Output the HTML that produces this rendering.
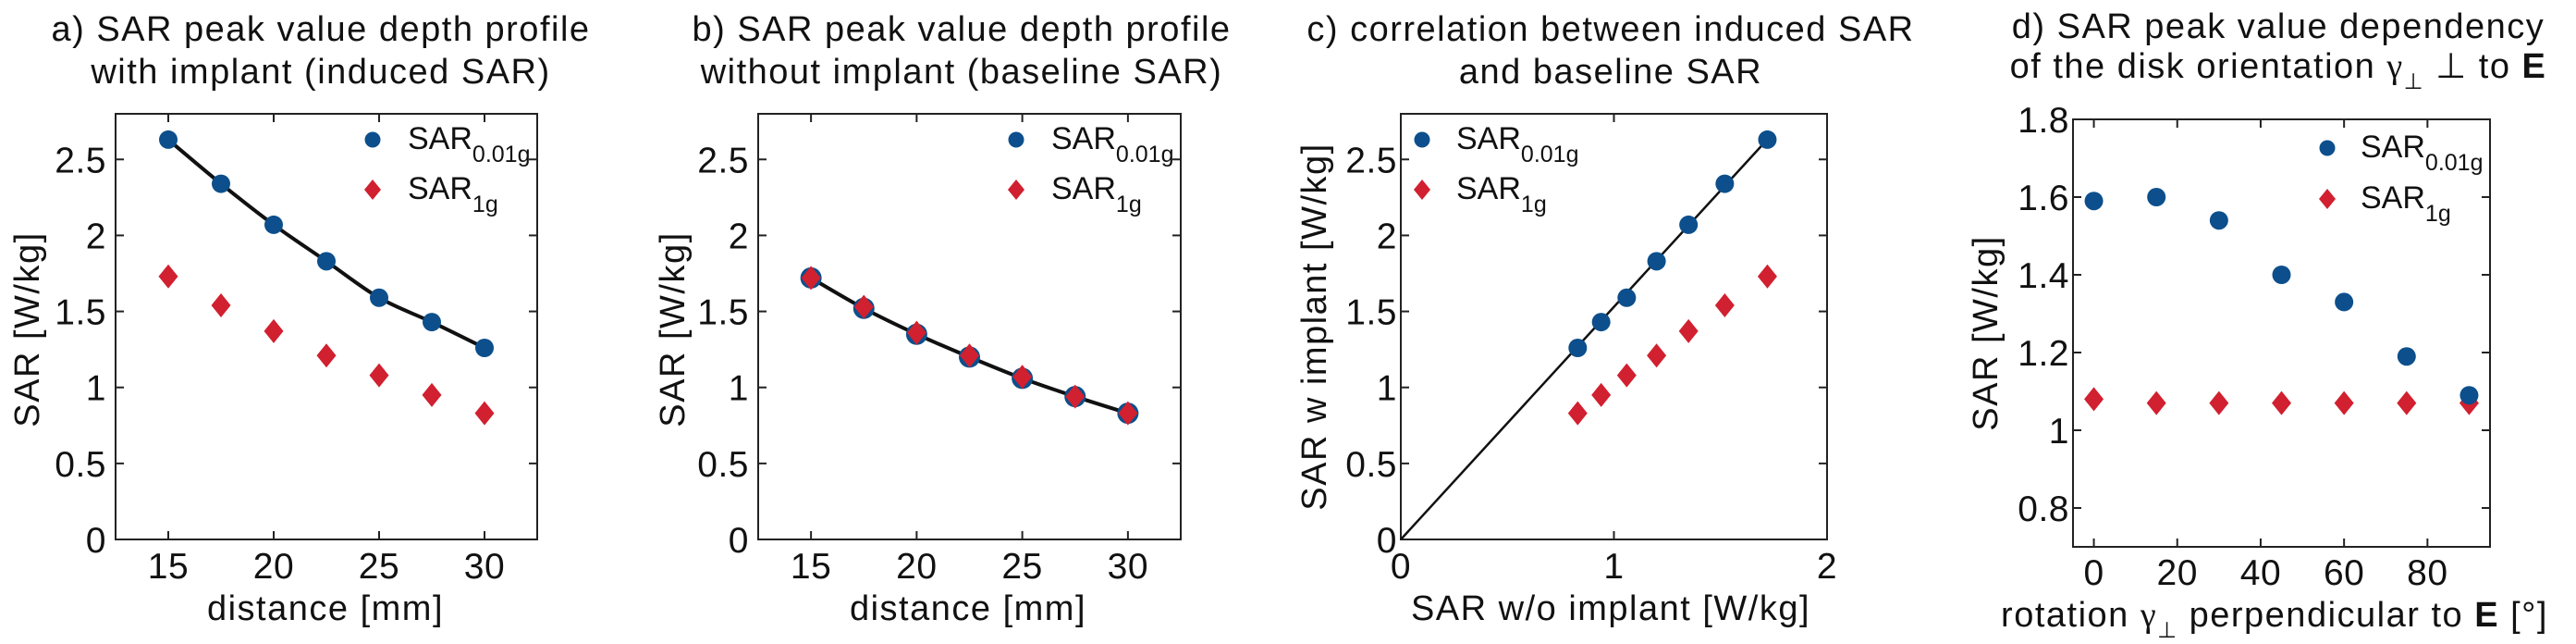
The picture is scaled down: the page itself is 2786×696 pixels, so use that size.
<!DOCTYPE html>
<html><head><meta charset="utf-8"><style>
html,body{margin:0;padding:0;background:#fff;}
svg{display:block;font-family:"Liberation Sans",Arial,sans-serif;}
</style></head><body>
<svg id="fig" width="2786" height="696" viewBox="0 0 2786 696" xmlns="http://www.w3.org/2000/svg"></svg>
<script>
// ---- data ----
const distances = [15, 17.5, 20, 22.5, 25, 27.5, 30];
const inducedSAR001 = [2.63, 2.34, 2.07, 1.83, 1.59, 1.43, 1.26];
const inducedSAR1 = [1.73, 1.54, 1.37, 1.21, 1.08, 0.95, 0.83];
const baselineSAR001 = [1.72, 1.52, 1.35, 1.20, 1.06, 0.94, 0.83];
const baselineSAR1 = [1.72, 1.53, 1.36, 1.21, 1.07, 0.94, 0.83];
const rotations = [0, 15, 30, 45, 60, 75, 90];
const rotSAR001 = [1.59, 1.60, 1.54, 1.40, 1.33, 1.19, 1.09];
const rotSAR1 = [1.08, 1.07, 1.07, 1.07, 1.07, 1.07, 1.07];
const corrSlope = [1.53];
const ticksSAR = [0, 0.5, 1, 1.5, 2, 2.5];
const tickLabelsSAR = ["0", "0.5", "1", "1.5", "2", "2.5"];
const ticksDist = [15, 20, 25, 30];
const ticksCorrX = [0, 1, 2];
const ticksRotX = [0, 20, 40, 60, 80];
const ticksRotY = [0.8, 1, 1.2, 1.4, 1.6, 1.8];
const tickLabelsRotY = ["0.8", "1", "1.2", "1.4", "1.6", "1.8"];

const NS = "http://www.w3.org/2000/svg";
const svg = document.getElementById("fig");
const BLUE = "#0c4f8c", RED = "#d1202f";
function mk(tag, attrs, parent) {
  const e = document.createElementNS(NS, tag);
  for (const k in attrs) e.setAttribute(k, attrs[k]);
  (parent || svg).appendChild(e);
  return e;
}
function scale(d0, d1, r0, r1) { return v => r0 + (v - d0) / (d1 - d0) * (r1 - r0); }

function smoothPath(pts) {
  let d = "M" + pts[0][0] + "," + pts[0][1];
  for (let i = 0; i < pts.length - 1; i++) {
    const p0 = pts[Math.max(0, i - 1)], p1 = pts[i], p2 = pts[i + 1], p3 = pts[Math.min(pts.length - 1, i + 2)];
    const c1x = p1[0] + (p2[0] - p0[0]) / 6, c1y = p1[1] + (p2[1] - p0[1]) / 6;
    const c2x = p2[0] - (p3[0] - p1[0]) / 6, c2y = p2[1] - (p3[1] - p1[1]) / 6;
    d += " C" + c1x + "," + c1y + " " + c2x + "," + c2y + " " + p2[0] + "," + p2[1];
  }
  return d;
}

function dot(g, x, y) {
  const c = mk("circle", {cx: x, cy: y, r: 10, fill: BLUE}, g);
  
  
}
function diamond(g, x, y) {
  const p = mk("polygon", {points: `${x},${y-13} ${x+10.5},${y} ${x},${y+13} ${x-10.5},${y}`, fill: RED}, g);
  
  
}

function axes(g, L, R, T, B, sx, sy, xt, xtl, yt, ytl, tickY, tickX) {
  const bx = mk("rect", {x: L, y: T, width: R - L, height: B - T, fill: "none", stroke: "#222", "stroke-width": 2}, g);
  
  
  xt.forEach((v, i) => {
    const x = sx(v);
    mk("line", {x1: x, x2: x, y1: B, y2: B - 9, stroke: "#222", "stroke-width": 2}, g);
    mk("line", {x1: x, x2: x, y1: T, y2: T + 9, stroke: "#222", "stroke-width": 2}, g);
    const t = mk("text", {x: x, y: tickX, "font-size": 39, "text-anchor": "middle", fill: "#111", "letter-spacing": 0.5}, g);
    t.textContent = xtl[i];
    
    
  });
  yt.forEach((v, i) => {
    const y = sy(v);
    mk("line", {x1: L, x2: L + 9, y1: y, y2: y, stroke: "#222", "stroke-width": 2}, g);
    mk("line", {x1: R, x2: R - 9, y1: y, y2: y, stroke: "#222", "stroke-width": 2}, g);
    const t = mk("text", {x: L - tickY, y: y + 14, "font-size": 39, "text-anchor": "end", fill: "#111", "letter-spacing": 0.5}, g);
    t.textContent = ytl[i];
    
    
  });
}

function legend(g, mx, tx, y1, y2) {
  const lg = mk("g", {}, g);
  
  
  mk("circle", {cx: mx, cy: y1, r: 8.5, fill: BLUE}, lg);
  mk("polygon", {points: `${mx},${y2-11} ${mx+9},${y2} ${mx},${y2+11} ${mx-9},${y2}`, fill: RED}, lg);
  const t1 = mk("text", {x: tx, y: y1 + 10, "font-size": 34, fill: "#111"}, lg);
  t1.innerHTML = 'SAR<tspan dy="14" font-size="25">0.01g</tspan>';
  
  
  const t2 = mk("text", {x: tx, y: y2 + 10, "font-size": 34, fill: "#111"}, lg);
  t2.innerHTML = 'SAR<tspan dy="14" font-size="25">1g</tspan>';
  
  
}

function title(g, cx, l1, l2, y1, y2) {
  [l1, l2].forEach((s, i) => {
    const t = mk("text", {x: cx, y: i ? y2 : y1, "font-size": 38, "text-anchor": "middle", fill: "#111", "letter-spacing": 1.5}, g);
    t.innerHTML = s;
    
    
  });
}
function ylabel(g, x, y, s) {
  const t = mk("text", {x: x, y: y, "font-size": 38, "text-anchor": "middle", fill: "#111", "letter-spacing": 1.5, transform: `rotate(-90 ${x} ${y})`}, g);
  t.textContent = s;
  
  
}
function xlabel(g, x, y, s) {
  const t = mk("text", {x: x, y: y, "font-size": 38, "text-anchor": "middle", fill: "#111", "letter-spacing": 1.5}, g);
  t.innerHTML = s;
  
  
}

// ---- panel a ----
(function () {
  const g = mk("g", {});
  
  
  const L = 125, R = 581, T = 123, B = 583;
  const sx = scale(12.5, 32.5, L, R), sy = scale(0, 2.8, B, T);
  title(g, 347, "a) SAR peak value depth profile", "with implant (induced SAR)", 44, 90);
  axes(g, L, R, T, B, sx, sy, ticksDist, ticksDist.map(String), ticksSAR, tickLabelsSAR, 10, 625);
  const pts = distances.map((d, i) => [sx(d), sy(inducedSAR001[i])]);
  const fit = mk("path", {d: smoothPath(pts), fill: "none", stroke: "#111", "stroke-width": 4}, g);
  
  
  distances.forEach((d, i) => dot(g, sx(d), sy(inducedSAR001[i])));
  distances.forEach((d, i) => diamond(g, sx(d), sy(inducedSAR1[i])));
  legend(g, 403, 441, 151, 205);
  ylabel(g, 42, 356, "SAR [W/kg]");
  xlabel(g, 352, 670, "distance [mm]");
})();

// ---- panel b ----
(function () {
  const g = mk("g", {});
  
  
  const L = 820, R = 1277, T = 123, B = 583;
  const sx = scale(12.5, 32.5, L, R), sy = scale(0, 2.8, B, T);
  title(g, 1040, "b) SAR peak value depth profile", "without implant (baseline SAR)", 44, 90);
  axes(g, L, R, T, B, sx, sy, ticksDist, ticksDist.map(String), ticksSAR, tickLabelsSAR, 10, 625);
  const pts = distances.map((d, i) => [sx(d), sy(baselineSAR001[i])]);
  const fit = mk("path", {d: smoothPath(pts), fill: "none", stroke: "#111", "stroke-width": 4}, g);
  
  
  distances.forEach((d, i) => { const c = mk("circle", {cx: sx(d), cy: sy(baselineSAR001[i]), r: 11.5, fill: BLUE}, g);
    
     });
  distances.forEach((d, i) => diamond(g, sx(d), sy(baselineSAR1[i])));
  legend(g, 1099, 1137, 151, 205);
  ylabel(g, 740, 356, "SAR [W/kg]");
  xlabel(g, 1047, 670, "distance [mm]");
})();

// ---- panel c ----
(function () {
  const g = mk("g", {});
  
  
  const L = 1515, R = 1976, T = 123, B = 583;
  const sx = scale(0, 2, L, R), sy = scale(0, 2.8, B, T);
  title(g, 1742, "c) correlation between induced SAR", "and baseline SAR", 44, 90);
  axes(g, L, R, T, B, sx, sy, ticksCorrX, ticksCorrX.map(String), ticksSAR, tickLabelsSAR, 4, 625);
  const xmax = Math.max(...baselineSAR001);
  const ln = mk("line", {x1: sx(0), y1: sy(0), x2: sx(xmax), y2: sy(xmax * corrSlope[0]), stroke: "#111", "stroke-width": 2.5}, g);
  
  
  baselineSAR001.forEach((b, i) => dot(g, sx(b), sy(inducedSAR001[i])));
  baselineSAR001.forEach((b, i) => diamond(g, sx(b), sy(inducedSAR1[i])));
  legend(g, 1538, 1575, 151, 205);
  ylabel(g, 1434, 353, "SAR w implant [W/kg]");
  xlabel(g, 1742, 670, "SAR w/o implant [W/kg]");
})();

// ---- panel d ----
(function () {
  const g = mk("g", {});
  
  
  const L = 2242, R = 2693, T = 129, B = 591;
  const sx = scale(-5, 95, L, R), sy = scale(0.7, 1.8, B, T);
  title(g, 2464, "d) SAR peak value dependency",
    'of the disk orientation <tspan font-family="Liberation Serif,serif">γ</tspan><tspan dy="12" font-size="24">⊥</tspan><tspan dy="-12"> ⊥ to </tspan><tspan font-weight="bold">E</tspan>', 41, 84);
  axes(g, L, R, T, B, sx, sy, ticksRotX, ticksRotX.map(String), ticksRotY, tickLabelsRotY, 4, 632);
  rotations.forEach((r, i) => diamond(g, sx(r), sy(rotSAR1[i])));
  rotations.forEach((r, i) => dot(g, sx(r), sy(rotSAR001[i])));
  legend(g, 2517, 2553, 160, 215);
  ylabel(g, 2160, 360, "SAR [W/kg]");
  xlabel(g, 2460, 677, 'rotation <tspan font-family="Liberation Serif,serif">γ</tspan><tspan dy="12" font-size="24">⊥</tspan><tspan dy="-12"> perpendicular to </tspan><tspan font-weight="bold">E</tspan> [°]');
})();
</script>
</body></html>
